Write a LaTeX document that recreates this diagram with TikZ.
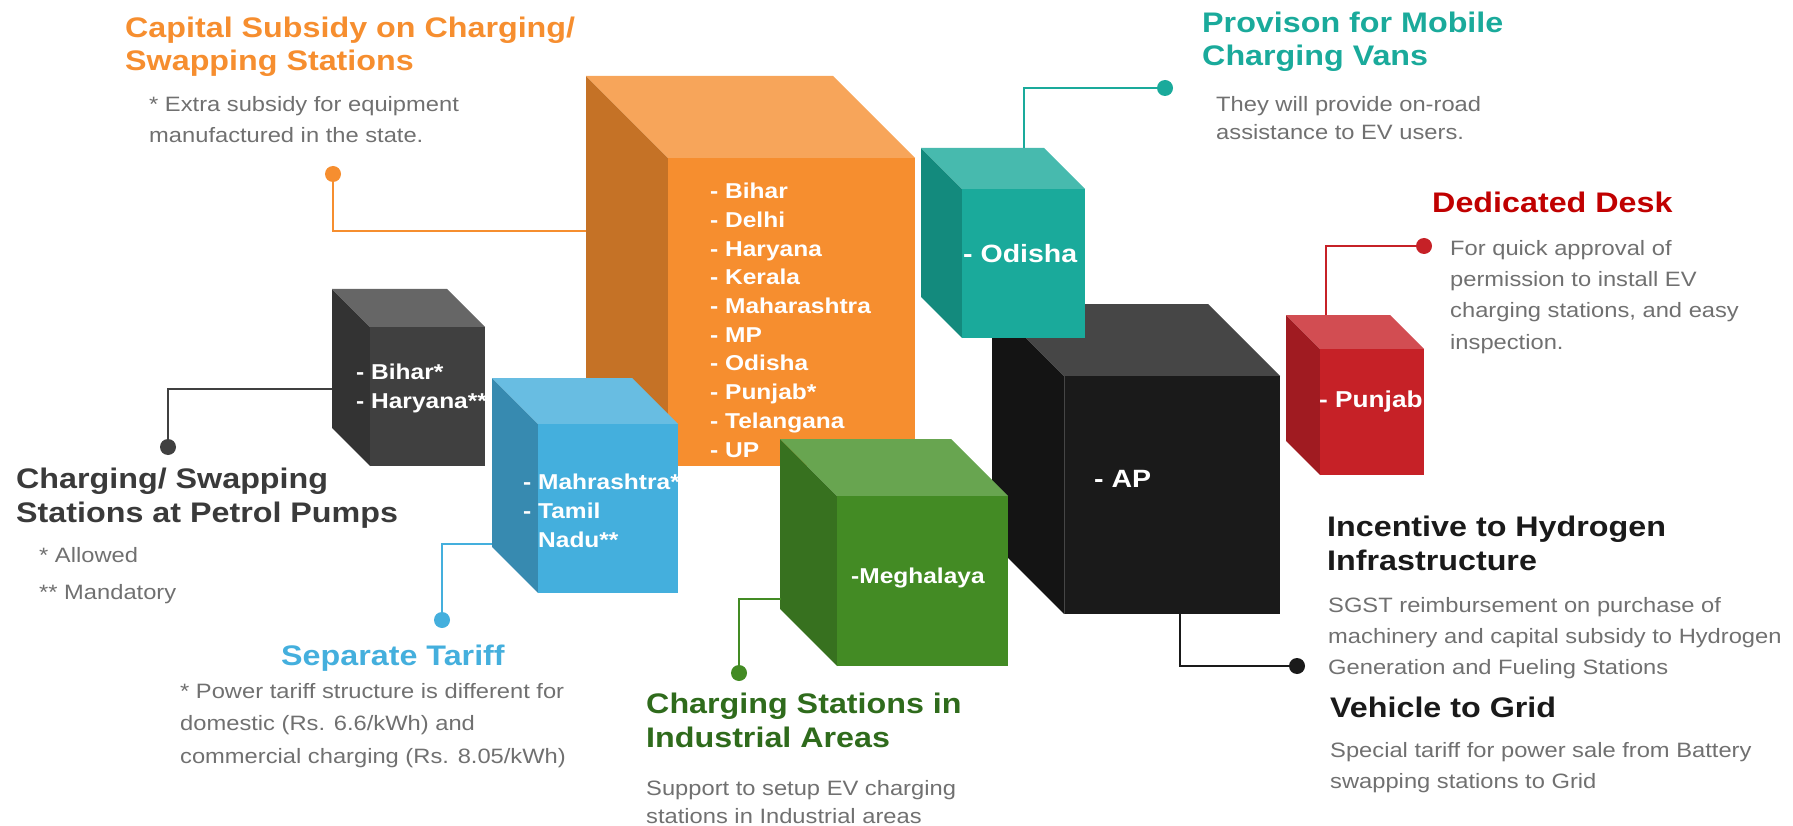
\documentclass[tikz,border=0pt]{standalone}
\usepackage{fontspec}
\setmainfont{Liberation Sans}[FakeStretch=1.14]
\usetikzlibrary{positioning, calc}

\definecolor{orF}{HTML}{F68E2F}\definecolor{orT}{HTML}{F7A55A}\definecolor{orL}{HTML}{C57226}
\definecolor{tlF}{HTML}{1AAA9B}\definecolor{tlT}{HTML}{47BAAE}\definecolor{tlL}{HTML}{138A7D}
\definecolor{rdF}{HTML}{C62127}\definecolor{rdT}{HTML}{D24D52}\definecolor{rdL}{HTML}{A01B21}
\definecolor{blF}{HTML}{44AFDD}\definecolor{blT}{HTML}{68BDE2}\definecolor{blL}{HTML}{378AB0}
\definecolor{grF}{HTML}{438B24}\definecolor{grT}{HTML}{68A550}\definecolor{grL}{HTML}{37711F}
\definecolor{bkF}{HTML}{1A1A1A}\definecolor{bkT}{HTML}{464646}\definecolor{bkL}{HTML}{141414}
\definecolor{gyF}{HTML}{404040}\definecolor{gyT}{HTML}{666666}\definecolor{gyL}{HTML}{333333}
\definecolor{noteC}{HTML}{707070}
\definecolor{deskC}{HTML}{C00000}
\definecolor{indC}{HTML}{2F6B1C}
\definecolor{pumpC}{HTML}{3A3A3A}

% #1 colour prefix, #2,#3 front top-left, #4 width, #5 height, #6 depth
\newcommand{\evcube}[6]{%
  \fill[#1L] (#2,#3) -- ++(-#6,-#6) -- ++(0,#5) -- ++(#6,#6) -- cycle;
  \fill[#1T] (#2,#3) -- ++(-#6,-#6) -- ++(#4,0) -- ++(#6,#6) -- cycle;
  \fill[#1F] (#2,#3) rectangle ++(#4,#5);
}

\begin{document}
\begin{tikzpicture}[x=1pt, y=-1pt,
    % multi-line nodes sit on the baseline of their last line
    head/.style={font=\bfseries\fontsize{28.3}{33.5}\selectfont, align=left, anchor=base west, inner sep=0pt},
    note/.style={text=noteC, font=\fontsize{20.8}{#1}\selectfont, align=left, anchor=base west, inner sep=0pt},
    note/.default=31,
    lbl/.style={text=white, font=\bfseries\fontsize{#1}{28.7}\selectfont, align=left, anchor=base west, inner sep=0pt},
    lbl/.default=21.5,
    dot/.style={circle, fill=#1, inner sep=0pt, minimum size=16pt},
    lead/.style={draw=#1, line width=2.5pt}]
    \useasboundingbox (0,0) rectangle (1793,826);

    % cubes, back to front
    \evcube{bk}{1064}{376}{216}{238}{72}
    \draw[bkT, line width=1pt] (1064,376) -- ++(0,238);
    \evcube{or}{668}{158}{247}{308}{82}
    \evcube{tl}{962}{189}{123}{149}{41}
    \evcube{rd}{1320}{349}{104}{126}{34}
    \evcube{gy}{370}{327}{115}{139}{38}
    \evcube{bl}{538}{424}{140}{169}{46}
    \evcube{gr}{837}{496}{171}{170}{57}

    % states in each cube
    \node[lbl] (orList) at (710,457) {- Bihar\\- Delhi\\- Haryana\\- Kerala\\- Maharashtra\\- MP\\- Odisha\\- Punjab*\\- Telangana\\- UP};
    \node[lbl] (gyList) at (356,408) {- Bihar*\\- Haryana**};
    \node[lbl] (blList) at (523,547) {- Mahrashtra*\\- Tamil\\\phantom{- }Nadu**};
    \node[lbl] (grList) at (851,583) {-Meghalaya};
    \node[lbl=25] (tlList) at (963,263) {- Odisha};
    \node[lbl=25] (bkList) at (1094,487) {- AP};
    \node[lbl=23] (rdList) at (1319,407) {- Punjab};

    % headings and notes
    \node[head, text=orF] (capHead) at (125,71) {Capital Subsidy on Charging/\\Swapping Stations};
    \node[note] (capNote) at (149,143) {* Extra subsidy for equipment\\manufactured in the state.};
    \node[head, text=pumpC] (pumpHead) at (16,522) {Charging/ Swapping\\Stations at Petrol Pumps};
    \node[note=37] (pumpNote) at (39,599) {* Allowed\\** Mandatory};
    \node[head, text=blF] (tariffHead) at (281,665) {Separate Tariff};
    \node[note=32.5] (tariffNote) at (180,763) {* Power tariff structure is different for\\domestic (Rs. 6.6/kWh) and\\commercial charging (Rs. 8.05/kWh)};
    \node[head, text=indC] (indHead) at (646,747) {Charging Stations in\\Industrial Areas};
    \node[note=28] (indNote) at (646,823) {Support to setup EV charging\\stations in Industrial areas};
    \node[head, text=tlF] (vanHead) at (1202,66) {Provison for Mobile\\Charging Vans};
    \node[note=28] (vanNote) at (1216,140) {They will provide on-road\\assistance to EV users.};
    \node[head, text=deskC] (deskHead) at (1432,213) {Dedicated Desk};
    \node[note=31.3] (deskNote) at (1450,349) {For quick approval of\\permission to install EV\\charging stations, and easy\\inspection.};
    \node[head, text=bkF] (hydHead) at (1327,570) {Incentive to Hydrogen\\Infrastructure};
    \node[note] (hydNote) at (1328,674) {SGST reimbursement on purchase of\\machinery and capital subsidy to Hydrogen\\Generation and Fueling Stations};
    \node[head, text=bkF] (gridHead) at (1330,717) {Vehicle to Grid};
    \node[note] (gridNote) at (1330,788) {Special tariff for power sale from Battery\\swapping stations to Grid};

    % callouts
    \coordinate (orEnd) at (586,231);
    \coordinate (gyEnd) at (332,389);
    \coordinate (blEnd) at (492,544);
    \coordinate (grEnd) at (781,599);
    \coordinate (tlEnd) at (1024,148);
    \coordinate (rdEnd) at (1326,315);
    \coordinate (bkEnd) at (1180,614);
    \node[dot=orF] (orDot) at (333,174) {};
    \node[dot=gyF] (gyDot) at (168,447) {};
    \node[dot=blF] (blDot) at (442,620) {};
    \node[dot=grF] (grDot) at (739,673) {};
    \node[dot=tlF] (tlDot) at (1165,88) {};
    \node[dot=rdF] (rdDot) at (1424,246) {};
    \node[dot=bkF] (bkDot) at (1297,666) {};

    \path
    (orEnd) edge[lead=orF, to path={-| (\tikztotarget)}] (orDot.center)
    (gyEnd) edge[lead=gyF, to path={-| (\tikztotarget)}] (gyDot.center)
    (blEnd) edge[lead=blF, to path={-| (\tikztotarget)}] (blDot.center)
    (grEnd) edge[lead=grF, to path={-| (\tikztotarget)}] (grDot.center)
    (tlEnd) edge[lead=tlF, to path={|- (\tikztotarget)}] (tlDot.center)
    (rdEnd) edge[lead=rdF, to path={|- (\tikztotarget)}] (rdDot.center)
    (bkEnd) edge[lead=bkF, to path={|- (\tikztotarget)}] (bkDot.center)
    ;
\end{tikzpicture}
\end{document}
